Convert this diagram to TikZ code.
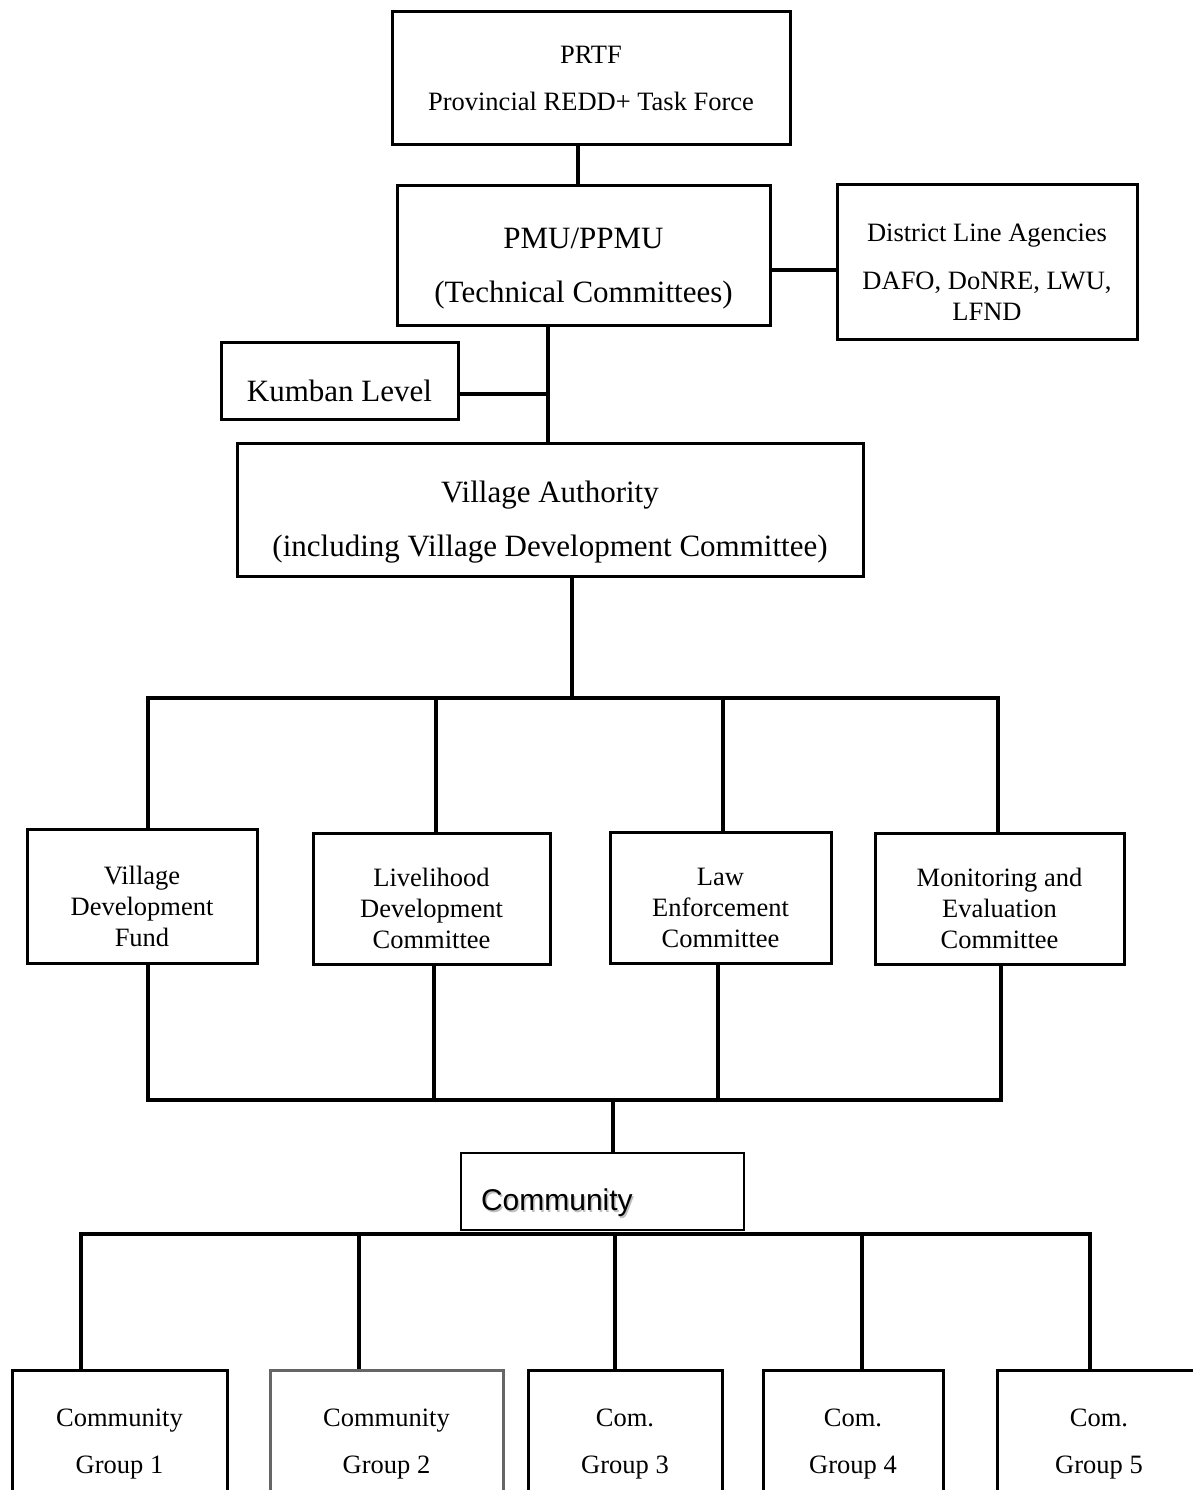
\documentclass[tikz,border=0pt]{standalone}
\usepackage{fontspec}
\setmainfont{Liberation Serif}
\newfontfamily\arialfont{Liberation Sans}
\usepackage{tikz}

\newcommand\boxtxt[2][13pt]{\raisebox{-#1}[\height][\depth]{\begin{tabular}{@{}c@{}}#2\end{tabular}}}
\newcommand\shadowtxt[1]{\makebox[0pt][l]{\hspace{1.5pt}\raisebox{-1.5pt}{\color{black!25}#1}}#1}

\begin{document}
\begin{tikzpicture}[x=1pt,y=-1pt,
    org/.style={draw,line width=3pt,inner sep=0pt},
    link/.style={line width=4pt},
    small/.style={font=\fontsize{26.5}{31}\selectfont},
    roomy/.style={font=\fontsize{26.5}{47}\selectfont},
    large/.style={font=\fontsize{31}{54}\selectfont}]
\useasboundingbox (0,0) rectangle (1192,1490);

% upper levels
\node[org,roomy,minimum width=398pt,minimum height=133pt] (prtf) at (591,78.5) {\boxtxt[-1pt]{PRTF\\Provincial REDD+ Task Force}};
\node[org,large,minimum width=373pt,minimum height=139pt] (pmu) at (583.5,255.5) {\boxtxt[9pt]{PMU/PPMU\\(Technical Committees)}};
\node[org,small,minimum width=300pt,minimum height=154pt] (dla) at (987,262) {\boxtxt{District Line Agencies\\[17pt]DAFO, DoNRE, LWU,\\LFND}};
\node[org,font=\fontsize{31}{36}\selectfont,minimum width=237pt,minimum height=77pt] (kumban) at (339.5,380.5) {\boxtxt[14pt]{Kumban Level}};
\node[org,large,minimum width=626pt,minimum height=133pt] (va) at (550,509.5) {\boxtxt[9pt]{Village Authority\\(including Village Development Committee)}};

% committees
\node[org,small,minimum width=230pt,minimum height=134pt] (vdf) at (142,896) {\boxtxt{Village\\Development\\Fund}};
\node[org,small,minimum width=237pt,minimum height=131pt] (ldc) at (431.5,898.5) {\boxtxt{Livelihood\\Development\\Committee}};
\node[org,small,minimum width=221pt,minimum height=131pt] (lec) at (720.5,897.5) {\boxtxt{Law\\Enforcement\\Committee}};
\node[org,small,minimum width=249pt,minimum height=131pt] (mec) at (999.5,898.5) {\boxtxt{Monitoring and\\Evaluation\\Committee}};

% community and its groups
\node[draw,line width=1.2pt,inner sep=0pt,font=\arialfont\fontsize{30}{36}\selectfont,minimum width=283pt,minimum height=77pt] (com) at (602.5,1191.5) {\boxtxt[12pt]{\makebox[243pt][l]{\shadowtxt{Community}}}};
\foreach \n/\x/\w/\t/\c [count=\i] in {g1/119.5/215/Community/black, g2/386.5/233/Community/black!60, g3/625/194/Com./black, g4/853/180/Com./black, g5/1099/204/Com./black}
  \node[org,roomy,draw=\c,minimum width=\w pt,minimum height=140pt] (\n) at (\x,1440) {\boxtxt[1pt]{\t\\Group \i}};

% connectors
\coordinate (jd) at (770,270);
\coordinate (jk) at (548,394);
\coordinate (b1) at (572,698);
\coordinate (b2) at (613,1100);
\coordinate (b3) at (615,1234);
\draw[link] ([xshift=-13pt]prtf.south) -- ([xshift=-5.5pt]pmu.north);
\draw[link] (jd) -- (jd -| dla.west);
\draw[link] (jk |- pmu.south) -- (jk |- va.north);
\draw[link] (kumban.east |- jk) -- (jk);
\draw[link] (b1 |- va.south) -- (b1);
\draw[link] (148,0 |- vdf.north) |- (b1) -| (998,0 |- mec.north);
\draw[link] (436,698) -- (436,0 |- ldc.north);
\draw[link] (723,698) -- (723,0 |- lec.north);
\draw[link] (148,0 |- vdf.south) |- (b2) -| (1001,0 |- mec.south);
\draw[link] (434,0 |- ldc.south) -- (434,0 |- b2);
\draw[link] (718,0 |- lec.south) -- (718,0 |- b2);
\draw[link] (b2) -- (b2 |- com.north);
\draw[link] (81,0 |- g1.north) |- (b3) -| (1090,0 |- g5.north);
\draw[link] (359,0 |- b3) -- (359,0 |- g2.north);
\draw[link] (b3) -- (b3 |- g3.north);
\draw[link] (862,0 |- b3) -- (862,0 |- g4.north);
\end{tikzpicture}
\end{document}
